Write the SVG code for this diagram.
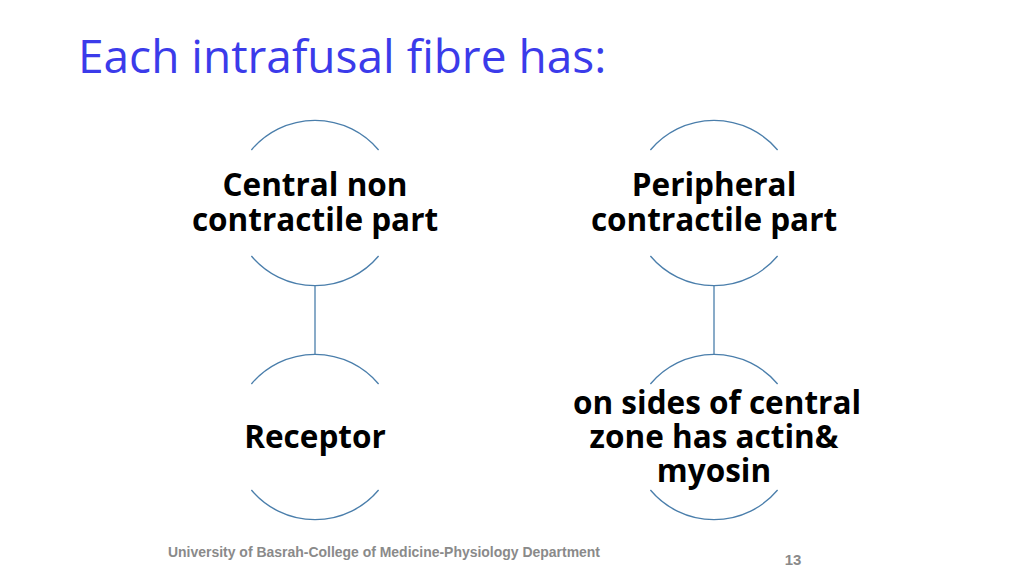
<svg xmlns="http://www.w3.org/2000/svg" width="1024" height="575" viewBox="0 0 1024 575">
<style>
.arc{fill:none;stroke:#4a7eab;stroke-width:1.3}
.t{font-family:"Open Sans","Noto Sans",sans-serif;font-weight:bold;font-size:31.5px;fill:#000;text-anchor:middle}
</style>
<rect width="1024" height="575" fill="#fff"/>
<text x="78" y="73" font-family="Open Sans,Noto Sans,sans-serif" font-size="46" fill="#3b3bea">Each intrafusal fibre has:</text>
<g id="connectors">
<line x1="315" y1="286" x2="315" y2="355" class="arc"/>
<line x1="714" y1="286" x2="714" y2="355" class="arc"/>
</g>
<g id="n1"><path class="arc" d="M251.4,150 A83,83 0 0 1 378.6,150 M251.4,256 A83,83 0 0 0 378.6,256"/>
<text class="t" x="315" y="196">Central non</text><text class="t" x="315" y="231">contractile part</text></g>
<g id="n2"><path class="arc" d="M650.4,150 A83,83 0 0 1 777.6,150 M650.4,256 A83,83 0 0 0 777.6,256"/>
<text class="t" x="714" y="196">Peripheral</text><text class="t" x="714" y="231">contractile part</text></g>
<g id="n3"><path class="arc" d="M251.4,384 A83,83 0 0 1 378.6,384 M251.4,490 A83,83 0 0 0 378.6,490"/>
<text class="t" x="315" y="448">Receptor</text></g>
<g id="n4"><path class="arc" d="M650.4,384 A83,83 0 0 1 777.6,384 M650.4,490 A83,83 0 0 0 777.6,490"/>
<text class="t" x="717" y="414">on sides of central</text><text class="t" x="714" y="448">zone has actin&amp;</text><text class="t" x="714" y="482">myosin</text></g>
<text x="168" y="557" font-family="Liberation Sans,Arial,sans-serif" font-weight="bold" font-size="14" fill="#8a8a8a" textLength="432" lengthAdjust="spacingAndGlyphs">University of Basrah-College of Medicine-Physiology Department</text>
<text x="793" y="565" font-family="Liberation Sans,Arial,sans-serif" font-weight="bold" font-size="15" fill="#8a8a8a" text-anchor="middle">13</text>
</svg>
